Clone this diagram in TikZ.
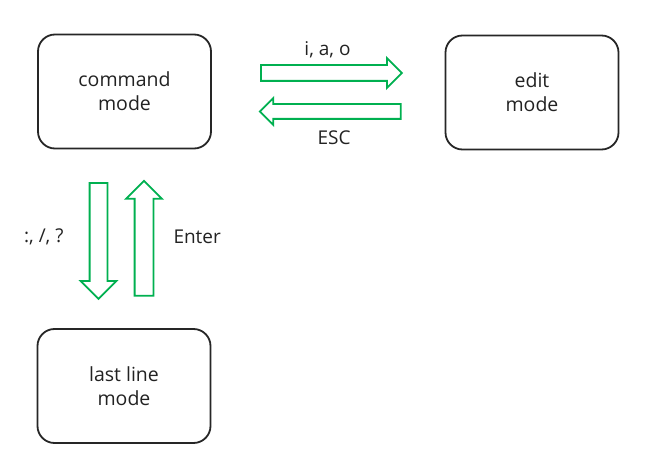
\documentclass[tikz,border=0pt]{standalone}
\usepackage{fontspec}
\setmainfont{Open Sans}
\usetikzlibrary{shapes.arrows}
\usetikzlibrary{positioning}

\definecolor{modegreen}{RGB}{0,176,80}
\definecolor{modetext}{RGB}{34,34,34}

\begin{document}
\begin{tikzpicture}
[x=1pt,y=-1pt,%
  mode/.style={shape=rectangle,draw=black!85,line width=1.8pt,rounded corners=17pt,%
    minimum width=173pt,minimum height=114pt,align=center,text=modetext,%
    font=\fontsize{19.5}{24}\selectfont},%
  blockarrow/.style={shape=single arrow,draw=modegreen,line width=1.8pt,fill=white,%
    single arrow head indent=0pt,single arrow tip angle=90,inner sep=7pt,minimum width=0pt},%
  keys/.style={inner sep=0pt,text=modetext,font=\fontsize{19}{22}\selectfont}]
\useasboundingbox (0,0) rectangle (656,473);
% the three modes
\node[mode] (command) at (124.5,91.5) {command\\mode};
\node[mode] (edit) at (532,92.5) {edit\\mode};
\node[mode] (lastline) at (124,386) {last line\\mode};
% arrows between them
\node[blockarrow,minimum height=141pt,single arrow head extend=7pt] (toedit) at (327.5,73) {};
\node[blockarrow,minimum height=141pt,single arrow head extend=6pt,inner sep=6.5pt,%
  shape border rotate=180] (tocommand) at (334,111.5) {};
\node[blockarrow,minimum height=116pt,single arrow head extend=9pt,inner sep=8pt,%
  shape border rotate=270] (tolastline) at (98.5,236.5) {};
\node[blockarrow,minimum height=115pt,single arrow head extend=8.5pt,inner sep=8.5pt,%
  shape border rotate=90] (fromlastline) at (144,243) {};
% key labels
\node[keys,above=6pt of toedit] (iao) {i, a, o};
\node[keys,below=11pt of tocommand] (esc) {ESC};
\node[keys,left=25pt of tolastline] (colon) {:, /, ?};
\node[keys,right=19pt of fromlastline,yshift=6pt] (enter) {Enter};
\end{tikzpicture}
\end{document}
